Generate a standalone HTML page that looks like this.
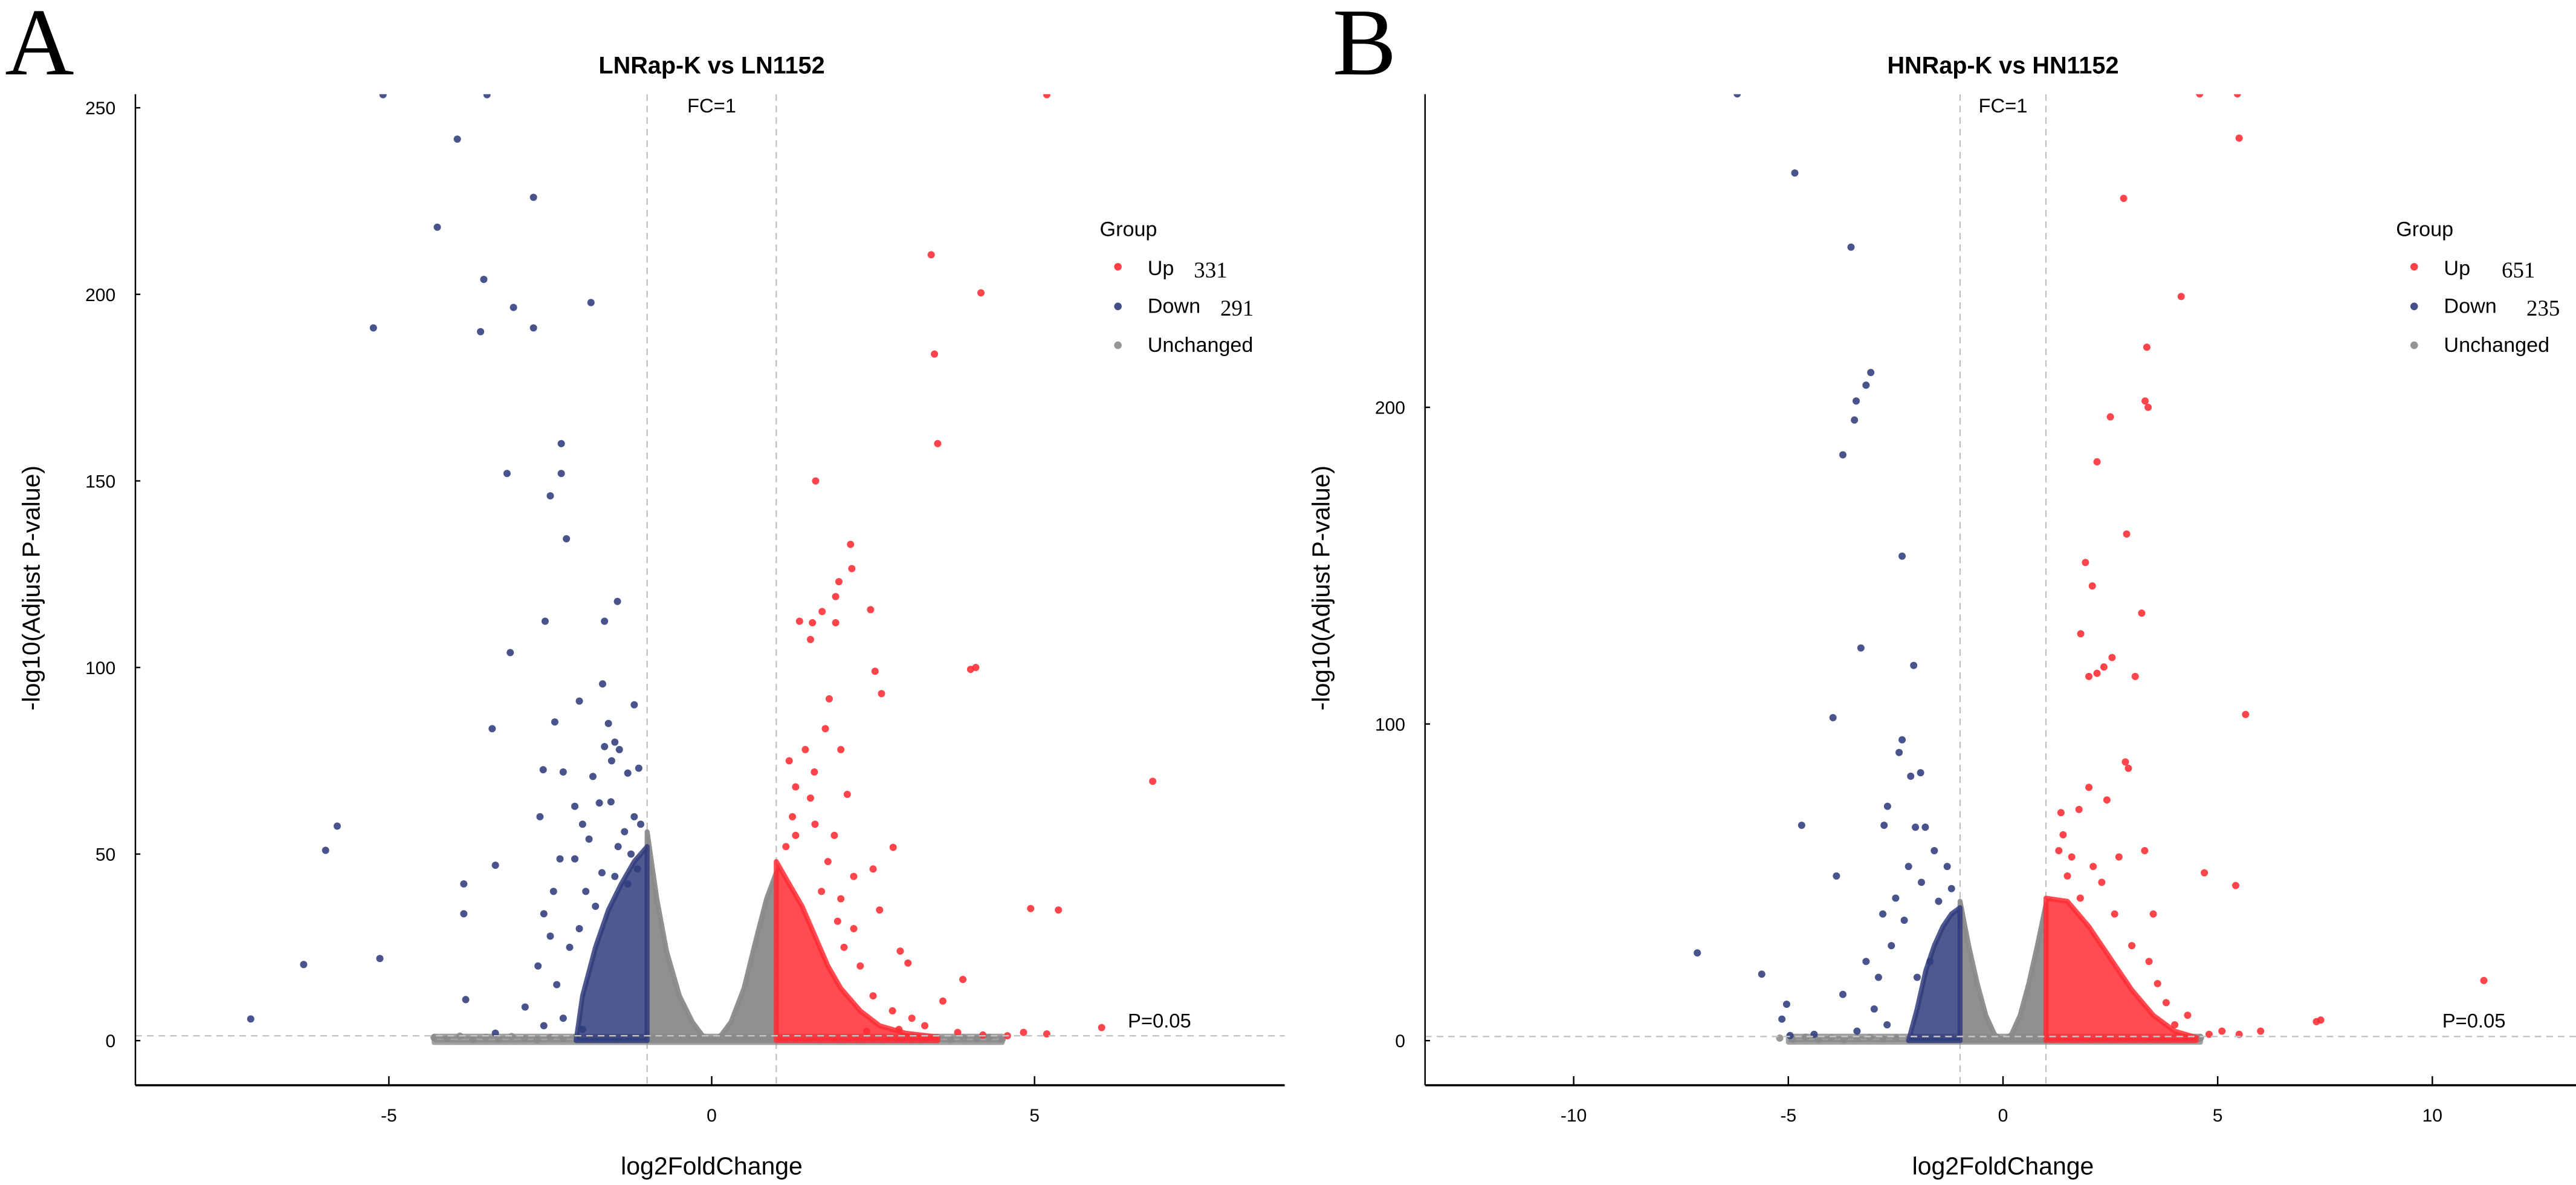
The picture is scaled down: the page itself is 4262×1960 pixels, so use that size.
<!DOCTYPE html>
<html><head><meta charset="utf-8">
<style>
html,body{margin:0;padding:0;background:#fff;}
svg{display:block;}
text{font-family:"Liberation Sans",sans-serif;fill:#000;}
text.serif{font-family:"Liberation Serif",serif;}
</style></head>
<body>
<svg id="chart" xmlns="http://www.w3.org/2000/svg" width="4262" height="1960" viewBox="0 0 1560 717.4">
<rect x="0" y="0" width="1560" height="717.4" fill="#fff"/>
</svg>
<script>
// ---------- Panel A data ----------
const aDownX = [-5.09,-3.48,-3.94,-4.25,-2.76,-3.53,-3.07,-1.87,-5.24,-3.58,-2.76,-2.33,-3.17,-2.33,-2.5,-2.25,-1.46,-2.58,-1.66,-3.12,-1.69,-2.05,-1.2,-3.4,-2.43,-1.6,-1.5,-1.55,-5.8,-5.98,-3.35,-3.84,-3.84,-6.32,-5.14,-7.14,-3.81,-3.35,-2.89,-2.69,-2.6,-2.45,-2.35,-2.12,-2.66,-2.61,-2.3,-1.84,-2.12,-1.74,-1.3,-1.43,-1.66,-1.56,-1.13,-2.0,-1.9,-1.35,-1.2,-1.1,-1.25,-1.45,-1.7,-1.95,-1.8,-2.2,-2.4,-2.05,-2.3,-2.6,-2.0,-1.5,-1.15,-1.3,-2.5];
const aDownY = [253.5,253.5,241.6,218,226,204,196.5,197.8,191,190,191,160,152,152,146,134.5,117.7,112.4,112.4,104,95.6,91,90,83.6,85.4,85,80,75,57.5,51,47,42,34,20.4,22,5.8,11,2,9,20,34,40,48.7,48.7,60,72.6,72,70.8,62.8,63.7,71.7,78,78.8,64,73,58,54,56,60,58,50,52,45,40,36,25,15,30,6,4,3,44,46,42,28];
const aUpX = [5.19,3.4,4.17,3.45,3.5,1.61,2.15,2.17,1.97,1.92,1.71,2.46,1.36,1.56,1.92,1.53,2.53,4.01,4.09,2.63,1.82,1.76,6.83,1.59,1.53,1.2,1.45,2.0,1.3,2.1,1.25,1.6,1.9,1.3,1.15,2.81,2.5,2.2,1.8,2.92,3.04,4.94,5.37,3.89,3.58,3.81,6.04,4.58,4.83,5.19,3.1,2.8,2.5,2.3,2.2,2.6,2.0,1.7,3.3,2.9,4.2,2.4,1.95,2.05];
const aUpY = [253.5,210.6,200.4,184,160,150,133,126.5,123,119,115,115.5,112.4,112,112,107.5,99,99.5,100,93,91.6,83.6,69.5,72,65,75,78,78,68,66,60,58,55,55,52,51.8,46,44,48,24,20.8,35.4,35,16.4,10.6,2.2,3.5,1.3,2.2,1.8,6,8,12,20,30,35,38,40,4,3,1.5,2.5,32,25];
const aDownCoreX = [-2.1,-2.0,-1.8,-1.6,-1.4,-1.2,-1.0,-1.0];
const aDownCoreY = [0,12,25,35,42,48,52,0];
const aUpCoreX = [1.0,1.0,1.2,1.4,1.6,1.8,2.0,2.3,2.6,3.0,3.5,3.5];
const aUpCoreY = [0,48,42,36,28,20,14,8,4,2,1,0];
const aGreyX = [-1,-1,-0.85,-0.7,-0.5,-0.3,-0.15,0,0.15,0.3,0.5,0.7,0.85,1,1];
const aGreyY = [0,56,38,24,12,5,1.5,0,1.5,5,14,28,38,45,0];
const aBandX = [-4.3,-4.3,4.5,4.5];
const aBandY = [-0.5,1.2,1.2,-0.5];
const aBaseX = [-4.3,-4.1,-3.9,-3.7,-3.5,-3.3,-3.1,-2.9,-2.7,-2.5,-2.3,-2.1,-1.9,-1.7,-1.5,-1.3,-1.1,1.1,1.3,1.5,1.7,1.9,2.1,2.3,2.5,2.7,2.9,3.1,3.3,3.5,3.7,3.9,4.1,4.3,4.5];
const aBaseY = [0.8,0.5,1.2,0.3,0.9,0.4,1.1,0.6,0.2,0.9,0.5,1.0,0.4,0.8,0.3,0.7,0.5,0.6,0.9,0.4,1.0,0.5,0.8,0.3,0.9,0.6,0.4,1.1,0.5,0.8,0.3,0.7,0.5,0.9,0.4];
const aXTicks = [-5,0,5];
const aYTicks = [0,50,100,150,200,250];

// ---------- Panel B data ----------
const bDownX = [-6.19,-4.85,-3.54,-3.08,-3.19,-3.42,-3.46,-3.73,-2.35,-3.31,-2.08,-3.96,-2.35,-2.42,-2.15,-1.92,-2.69,-4.69,-2.77,-2.04,-1.81,-3.88,-7.12,-5.62,-5.04,-5.15,-4.96,-3.19,-3.73,-2.9,-2.6,-2.5,-2.2,-1.6,-1.3,-1.2,-2.8,-2.3,-1.9,-1.5,-3.0,-2.7,-4.4,-3.4,-2.0,-1.7];
const bDownY = [299,274,250.6,211,207,202,196,185,153,124,118.5,102,95,91,83.5,84.6,74,68,68,67.4,67.4,52,27.7,21,11.5,6.8,1.6,25,14.6,20,30,45,55,60,55,48,40,38,50,44,10,5,2,3,20,25];
const bUpX = [4.58,5.46,5.5,2.81,4.15,3.35,3.31,3.38,2.5,2.19,2.88,1.92,2.08,3.23,1.81,2.54,2.35,2.0,2.19,3.08,5.65,2.85,2.92,2.42,4.69,5.42,2.0,1.77,1.35,1.4,1.3,1.6,3.3,2.7,2.1,1.5,3.5,2.3,11.2,7.3,7.4,6.0,5.5,4.8,4.3,3.8,3.4,3.0,2.6,1.8,3.6,4.0,5.1];
const bUpY = [299,299,285,266,235,219,202,200,197,182.8,160,151,143.6,135,128.5,121,118,115,116,115,103,88,86,76,53,49,80,73,72,65,60,58,60,58,55,52,40,50,19,6,6.5,3,2,2,8,12,25,30,40,45,18,5,3];
const bDownCoreX = [-2.2,-2.0,-1.8,-1.6,-1.4,-1.2,-1.0,-1.0];
const bDownCoreY = [0,10,22,30,36,40,42,0];
const bUpCoreX = [1.0,1.0,1.5,2.0,2.5,3.0,3.5,4.0,4.5,4.5];
const bUpCoreY = [0,45,44,36,26,16,8,3,1,0];
const bGreyX = [-1,-1,-0.8,-0.6,-0.4,-0.2,0,0.2,0.4,0.6,0.8,1,1];
const bGreyY = [0,44,30,18,8,2,0,2,8,18,30,43,0];
const bBandX = [-5.0,-5.0,4.6,4.6];
const bBandY = [-0.5,1.4,1.4,-0.5];
const bBaseX = [-5.2,-4.9,-4.6,-4.3,-4.0,-3.7,-3.4,-3.1,-2.8,-2.5,-2.2,-1.9,-1.6,-1.3,1.3,1.6,1.9,2.2,2.5,2.8,3.1,3.4,3.7,4.0,4.3,4.6];
const bBaseY = [0.8,0.5,1.1,0.4,0.9,0.3,0.7,1.0,0.5,0.8,0.4,0.9,0.6,0.5,0.7,0.4,1.0,0.6,0.3,0.9,0.5,0.8,0.4,0.7,0.5,0.9];
const bXTicks = [-10,-5,0,5,10];
const bYTicks = [0,100,200];

const NS = 'http://www.w3.org/2000/svg';
const svg = document.getElementById('chart');
const RED = '#ff2b33', BLUE = '#303c7c', GREY = '#8a8a8a';
const PT = 2.2;

function mk(tag, attrs, parent, txt){
  const e = document.createElementNS(NS, tag);
  for (const k in attrs) e.setAttribute(k, attrs[k]);
  if (txt !== undefined) e.textContent = txt;
  (parent || svg).appendChild(e);
  return e;
}

function drawPanel(p){
  const sx = v => p.x0 + v * p.kx;
  const sy = v => p.y0 - v * p.ky;
  const g = mk('g', {});
  
  

  const cp = mk('clipPath', {id: p.id + '-clip'}, g);
  mk('rect', {x: p.left, y: p.top, width: p.right - p.left, height: p.bottom - p.top}, cp);

  const letter = mk('text', {x: p.letterX, y: 45, 'font-size': 58, class: 'serif'}, g, p.letter);
  
  
  const title = mk('text', {x: p.x0, y: 44.5, 'font-size': 14.5, 'font-weight': 'bold', 'text-anchor': 'middle'}, g, p.title);
  
  

  const plot = mk('g', {'clip-path': 'url(#' + p.id + '-clip)'}, g);
  
  

  [-1, 1].forEach(v => {
    const l = mk('line', {x1: sx(v), x2: sx(v), y1: p.top, y2: p.bottom, stroke: '#bdbdbd', 'stroke-width': 0.8, 'stroke-dasharray': '4,3'}, plot);
    
    
  });

  function area(xs, ys, color, name, op){
    let d = '';
    xs.forEach((x, i) => { d += (i ? 'L' : 'M') + sx(x).toFixed(2) + ',' + sy(ys[i]).toFixed(2); });
    const e = mk('path', {d: d + 'Z', fill: color, stroke: color, 'stroke-width': 3, 'stroke-linejoin': 'round', 'fill-opacity': op, 'stroke-opacity': op}, plot);
    
    
  }
  function pts(xs, ys, color, name){
    const gg = mk('g', {fill: color, 'fill-opacity': 0.88}, plot);
    
    
    xs.forEach((x, i) => {
      const c = mk('circle', {cx: sx(x).toFixed(2), cy: sy(ys[i]).toFixed(2), r: PT}, gg);
      
      
    });
  }
  area(p.bandX, p.bandY, GREY, 'unchanged-baseline-band', 0.8);
  pts(p.baseX, p.baseY, GREY, 'unchanged-baseline');
  area(p.greyX, p.greyY, GREY, 'unchanged-cloud', 0.95);
  area(p.downCoreX, p.downCoreY, BLUE, 'down-dense-cluster', 0.85);
  area(p.upCoreX, p.upCoreY, RED, 'up-dense-cluster', 0.85);
  pts(p.downX, p.downY, BLUE, 'down-series');
  pts(p.upX, p.upY, RED, 'up-series');

  const hl = mk('line', {x1: p.left, x2: p.right, y1: sy(1.3), y2: sy(1.3), stroke: '#c4c4c4', 'stroke-width': 0.9, 'stroke-dasharray': '4,3'}, plot);
  
  

  const fc = mk('text', {x: p.x0, y: 68, 'font-size': 12, 'text-anchor': 'middle'}, g, 'FC=1');
  
  
  const pl = mk('text', {x: p.pLabelX, y: 622, 'font-size': 12}, g, 'P=0.05');
  
  

  const ya = mk('line', {x1: p.left, x2: p.left, y1: p.top, y2: p.bottom, stroke: '#000', 'stroke-width': 0.9}, g);
  
  
  const xa = mk('line', {x1: p.left, x2: p.right, y1: p.bottom, y2: p.bottom, stroke: '#000', 'stroke-width': 1.3}, g);
  
  
  p.xTicks.forEach(v => {
    const t = mk('line', {x1: sx(v), x2: sx(v), y1: p.bottom, y2: p.bottom - 5.5, stroke: '#000', 'stroke-width': 0.9}, g);
    
    
    const tl = mk('text', {x: sx(v), y: p.bottom + 22, 'font-size': 11, 'text-anchor': 'middle', fill: '#333'}, g, String(v));
    
    
  });
  p.yTicks.forEach(v => {
    const t = mk('line', {x1: p.left, x2: p.left + 3, y1: sy(v), y2: sy(v), stroke: '#000', 'stroke-width': 0.9}, g);
    
    
    const tl = mk('text', {x: p.left - 12, y: sy(v) + 4, 'font-size': 11, 'text-anchor': 'end', fill: '#333'}, g, String(v));
    
    
  });
  const xt = mk('text', {x: p.x0, y: 711, 'font-size': 15, 'text-anchor': 'middle'}, g, 'log2FoldChange');
  
  
  const yt = mk('text', {x: 0, y: 0, 'font-size': 15, 'text-anchor': 'middle', transform: 'translate(' + (p.left - 58) + ',356) rotate(-90)'}, g, '-log10(Adjust P-value)');
  
  

  const lg = mk('g', {}, g);
  
  
  const lt = mk('text', {x: p.legX, y: 143, 'font-size': 12.5}, lg, 'Group');
  
  
  const entries = [['Up', RED, p.upCount, 161.5, 166.5], ['Down', BLUE, p.downCount, 185.5, 189.5], ['Unchanged', GREY, '', 209, 213]];
  entries.forEach(en => {
    const e = mk('g', {}, lg);
    
    
    mk('circle', {cx: p.legX + 11, cy: en[3], r: 2.3, fill: en[1], 'fill-opacity': 0.9}, e);
    mk('text', {x: p.legX + 29, y: en[4], 'font-size': 12.5}, e, en[0]);
    if (en[2]) mk('text', {x: p.legX + (en[0] === 'Up' ? p.upNumDx : p.downNumDx), y: en[4] + 1.5, 'font-size': 13.5, class: 'serif'}, e, en[2]);
  });
}

drawPanel({id: 'panel-a', letter: 'A', letterX: 3, title: 'LNRap-K vs LN1152',
  x0: 431, kx: 39.1, y0: 630, ky: 2.259, left: 82, right: 778, top: 57, bottom: 657,
  pLabelX: 683, legX: 666, upCount: '331', downCount: '291', upNumDx: 57, downNumDx: 73,
  downX: aDownX, downY: aDownY, upX: aUpX, upY: aUpY,
  downCoreX: aDownCoreX, downCoreY: aDownCoreY, upCoreX: aUpCoreX, upCoreY: aUpCoreY,
  greyX: aGreyX, greyY: aGreyY, bandX: aBandX, bandY: aBandY, baseX: aBaseX, baseY: aBaseY, xTicks: aXTicks, yTicks: aYTicks});

drawPanel({id: 'panel-b', letter: 'B', letterX: 807, title: 'HNRap-K vs HN1152',
  x0: 1213, kx: 26, y0: 630, ky: 1.917, left: 863, right: 1560, top: 57, bottom: 657,
  pLabelX: 1479, legX: 1451, upCount: '651', downCount: '235', upNumDx: 64, downNumDx: 79,
  downX: bDownX, downY: bDownY, upX: bUpX, upY: bUpY,
  downCoreX: bDownCoreX, downCoreY: bDownCoreY, upCoreX: bUpCoreX, upCoreY: bUpCoreY,
  greyX: bGreyX, greyY: bGreyY, bandX: bBandX, bandY: bBandY, baseX: bBaseX, baseY: bBaseY, xTicks: bXTicks, yTicks: bYTicks});
</script>
</body></html>
